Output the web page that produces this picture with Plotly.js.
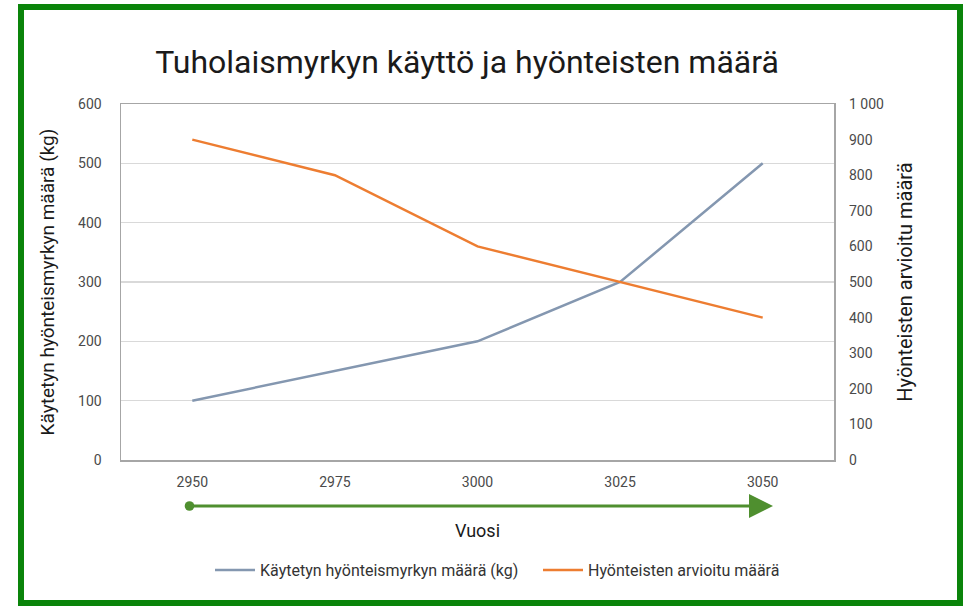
<!DOCTYPE html>
<html>
<head>
<meta charset="utf-8">
<script src="https://cdn.plot.ly/plotly-3.0.1.min.js"></script>
<style>
  html, body { margin: 0; padding: 0; background: #ffffff; }
  #wrap { position: relative; width: 964px; height: 607px; }
  #chart { position: absolute; left: 0; top: 0; width: 964px; height: 607px; }
  #frame { position: absolute; left: 18px; top: 4px; width: 933px; height: 590px;
           border: 6px solid #0a840a; pointer-events: none; }
</style>
</head>
<body>
<div id="wrap">
  <div id="chart"></div>
  <div id="frame"></div>
</div>
<script>
const years = ['2950', '2975', '3000', '3025', '3050'];
const pesticideKg = [100, 150, 200, 300, 500];
const insectCount = [900, 800, 600, 500, 400];
const seriesNames = ['Käytetyn hyönteismyrkyn määrä (kg)', 'Hyönteisten arvioitu määrä'];

const FONT = 'Roboto, "Liberation Sans", Arial, sans-serif';

const traces = [
  {
    x: years, y: pesticideKg, name: seriesNames[0], type: 'scatter', mode: 'lines',
    line: { color: '#8497b0', width: 2.5 }, yaxis: 'y'
  },
  {
    x: years, y: insectCount, name: seriesNames[1], type: 'scatter', mode: 'lines',
    line: { color: '#ed7d31', width: 2.5 }, yaxis: 'y2'
  }
];

const layout = {
  width: 964, height: 607,
  margin: { l: 121, r: 130, t: 104, b: 147 },
  paper_bgcolor: '#ffffff', plot_bgcolor: '#ffffff',
  separators: ', ',
  font: { family: FONT, color: '#404040' },
  showlegend: true,
  title: {
    text: 'Tuholaismyrkyn käyttö ja hyönteisten määrä',
    font: { family: FONT, size: 32, color: '#1a1a1a' },
    x: 467 / 964, xanchor: 'center', xref: 'container',
    y: 1 - 62 / 607, yanchor: 'middle', yref: 'container'
  },
  xaxis: {
    type: 'category',
    range: [-0.5, 4.5],
    showgrid: false, zeroline: false,
    showline: true, linecolor: '#a6a6a6', linewidth: 1.5, mirror: true,
    ticks: '', ticklabelstandoff: 9,
    tickfont: { family: FONT, size: 14, color: '#4a4a4a' },
    title: { text: 'Vuosi', font: { family: FONT, size: 18, color: '#1a1a1a' }, standoff: 35 }
  },
  yaxis: {
    range: [0, 600], dtick: 100,
    showgrid: true, gridcolor: '#d9d9d9', gridwidth: 1.2,
    zeroline: false,
    showline: true, linecolor: '#a6a6a6', linewidth: 1.5, mirror: true,
    ticks: '', ticklabelstandoff: 15,
    tickfont: { family: FONT, size: 14, color: '#4a4a4a' },
    title: { text: seriesNames[0], font: { family: FONT, size: 19, color: '#1a1a1a' }, standoff: 18 }
  },
  yaxis2: {
    range: [0, 1000], dtick: 100, tickformat: ',d',
    overlaying: 'y', side: 'right',
    showgrid: false, zeroline: false, showline: false,
    ticks: '', ticklabelstandoff: 14,
    tickfont: { family: FONT, size: 14, color: '#4a4a4a' },
    title: { text: 'Hyönteisten arvioitu määrä', font: { family: FONT, size: 20, color: '#1a1a1a' }, standoff: 14 }
  },
  legend: {
    orientation: 'h',
    x: (210 - 121) / 713, xanchor: 'left',
    y: (460 - 570) / 356, yanchor: 'middle',
    font: { family: FONT, size: 16, color: '#333333' },
    itemwidth: 40,
    entrywidth: 273, entrywidthmode: 'pixels',
    tracegroupgap: 0
  },
  annotations: [
    {
      xref: 'paper', yref: 'paper',
      x: (773 - 121) / 713, y: (460 - 506) / 356,
      axref: 'pixel', ayref: 'pixel',
      ax: -585, ay: 0,
      text: '', showarrow: true,
      arrowhead: 2, arrowsize: 1.6, arrowwidth: 3, arrowcolor: '#4f8f2f',
      arrowside: 'end+start', startarrowhead: 6, startarrowsize: 0.8
    }
  ]
};

Plotly.newPlot('chart', traces, layout, { staticPlot: true, displayModeBar: false });
</script>
</body>
</html>
